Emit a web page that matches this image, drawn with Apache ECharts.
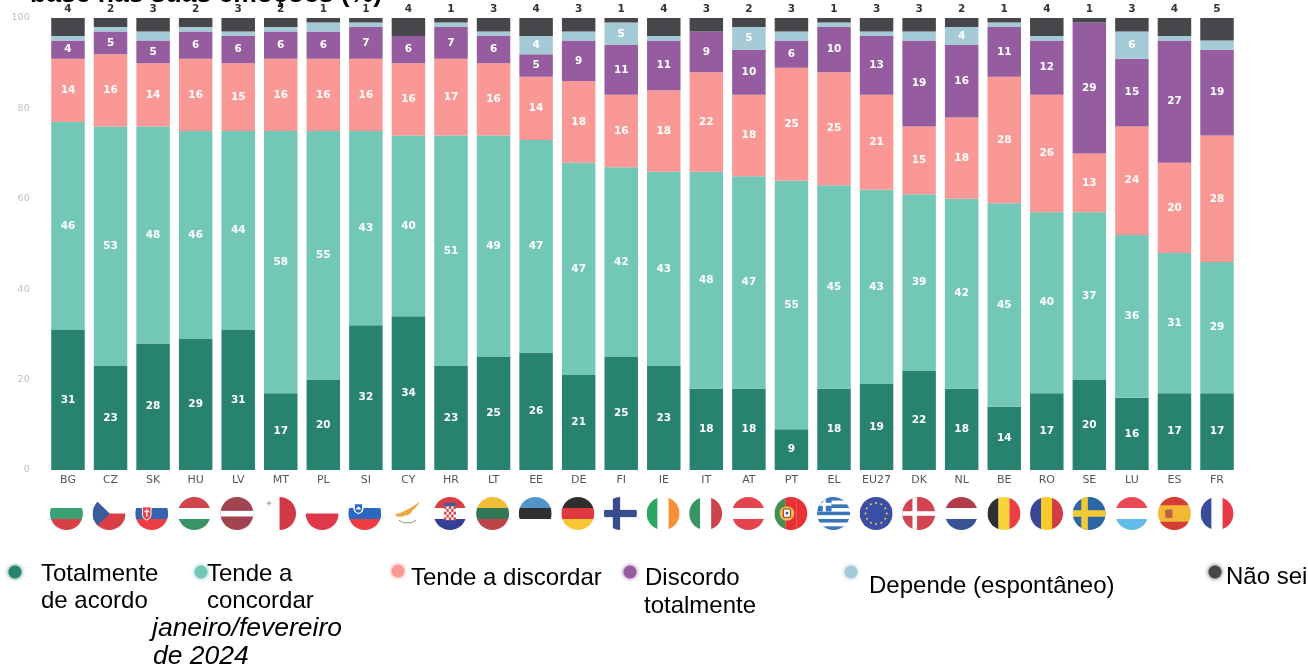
<!DOCTYPE html>
<html><head><meta charset="utf-8">
<style>html,body{margin:0;padding:0;background:#fff}#c{width:1308px;height:669px}</style>
<script src="https://cdn.jsdelivr.net/npm/echarts@6/dist/echarts.min.js"></script>
</head><body><div id="c"></div>
<script>
const countries = ['BG','CZ','SK','HU','LV','MT','PL','SI','CY','HR','LT','EE','DE','FI','IE','IT','AT','PT','EL','EU27','DK','NL','BE','RO','SE','LU','ES','FR'];
const totalmente = [31,23,28,29,31,17,20,32,34,23,25,26,21,25,23,18,18,9,18,19,22,18,14,17,20,16,17,17];
const tendeConcordar = [46,53,48,46,44,58,55,43,40,51,49,47,47,42,43,48,47,55,45,43,39,42,45,40,37,36,31,29];
const tendeDiscordar = [14,16,14,16,15,16,16,16,16,17,16,14,18,16,18,22,18,25,25,21,15,18,28,26,13,24,20,28];
const discordo = [4,5,5,6,6,6,6,7,6,7,6,5,9,11,11,9,10,6,10,13,19,16,11,12,29,15,27,19];
const depende = [1,1,2,1,1,1,2,1,0,1,1,4,2,5,1,0,5,2,1,1,2,4,1,1,0,6,1,2];
const naoSei = [4,2,3,2,3,2,1,1,4,1,3,4,3,1,4,3,2,3,1,3,3,2,1,4,1,3,4,5];
const seriesNames = ['Totalmente de acordo','Tende a concordar','Tende a discordar','Discordo totalmente','Depende (espontâneo)','Não sei'];
const colors = ['#27836f','#73c7b7','#fa9896','#955ca0','#a4cbd5','#47474b'];
const yTicks = [0,20,40,60,80,100];

// Flag artwork (100x100 box)
const R='#d6363c',G='#2f9d6c',B='#2f4f9b',W='#ffffff',Y='#f5c52c',K='#242424';
const h=(...c)=>c.map((x,i)=>`<rect x="0" y="${i*100/c.length}" width="100" height="${100/c.length+.5}" fill="${x}"/>`).join('');
const v=(...c)=>c.map((x,i)=>`<rect y="0" x="${i*100/c.length}" height="100" width="${100/c.length+.5}" fill="${x}"/>`).join('');
const cross=(bg,fg,cx,t)=>`<rect width="100" height="100" fill="${bg}"/><rect x="${cx-t/2}" width="${t}" height="100" fill="${fg}"/><rect y="${50-t/2}" width="100" height="${t}" fill="${fg}"/>`;
const stars=()=>{let s='';[[50,18],[66,22],[78,34],[82,50],[78,66],[66,78],[50,82],[34,78],[22,66],[18,50],[22,34],[34,22]].forEach(p=>{s+=`<circle cx="${p[0]}" cy="${p[1]}" r="3" fill="#f2d23a"/>`});return s};
const flagArt = {
 BG:h(W,G,R), CZ:h(W,R)+`<path d="M0 0L52 50L0 100Z" fill="#2f5597"/>`,
 SK:h(W,'#2a5caa','#ee3338')+`<path d="M22 30h26v26q-2 10-13 14q-11-4-13-14z" fill="#e8353a" stroke="#fff" stroke-width="3"/><path d="M35 36v24M28 44h14" stroke="#fff" stroke-width="4"/>`,
 HU:h('#cd3a44',W,'#2f8f5b'), LV:`<rect width="100" height="100" fill="#9e3a46"/><rect y="42" width="100" height="17" fill="#fff"/>`,
 MT:v(W,'#cf2f3b')+`<path d="M18 12v14M11 19h14" stroke="#c9a9a9" stroke-width="5"/>`,
 PL:h(W,'#dc2f41'), SI:h(W,'#1f5fc0','#ee3338')+`<path d="M18 20h26v18q-2 8-13 12q-11-4-13-12z" fill="#1f5fc0" stroke="#fff" stroke-width="4"/><path d="M22 38l9-10l9 10z" fill="#fff"/>`,
 CY:`<rect width="100" height="100" fill="#fff"/><path d="M12 52Q30 50 50 38Q70 28 88 14Q78 32 66 40Q58 56 44 56Q28 62 18 58Z" fill="#eda33a"/><path d="M24 70Q38 82 50 78M76 70Q62 82 50 78" stroke="#7c9a5c" stroke-width="3" fill="none"/>`,
 HR:h('#d9343c',W,'#29368e')+`<g><rect x="32" y="28" width="36" height="42" fill="#fff"/>${[0,1,2,3,4].map(i=>[0,1,2,3,4].map(j=>(i+j)%2==0?`<rect x="${32+i*7.2}" y="${28+j*8.4}" width="7.2" height="8.4" fill="#d9343c"/>`:'').join('')).join('')}<path d="M32 18h36v10h-36z" fill="#2c5aa0"/></g>`,
 LT:h('#f2b92e','#27704f','#b93a42'), EE:h('#4a90c8',K,W),
 DE:h(K,'#dc2f35','#f5c62a'), FI:cross(W,'#2f4488',38,22),
 IE:v('#1fa45b',W,'#f58b2c'), IT:v('#2f8f5b',W,'#c73c42'), AT:h('#e23a44',W,'#e23a44'),
 PT:v('#3c8a4c','#e8262a','#e8262a')+`<circle cx="38" cy="50" r="22" fill="#e2c94a"/><rect x="27" y="36" width="22" height="26" rx="4" fill="#fff" stroke="#c9352f" stroke-width="4"/><circle cx="38" cy="49" r="4" fill="#2b4a9a"/>`,
 EL:[0,1,2,3,4,5,6,7,8].map(i=>`<rect y="${i*100/9}" width="100" height="11.6" fill="${i%2?'#fff':'#2f6fb8'}"/>`).join('')+`<rect width="44" height="44" fill="#2f6fb8"/><path d="M22 0v44M0 22h44" stroke="#fff" stroke-width="9"/>`,
 EU27:`<rect width="100" height="100" fill="#2f45a0"/>`+stars(),
 DK:cross('#cf3a47',W,38,14), NL:h('#ae3340',W,'#2f4a8f'), BE:v(K,'#f5d32e','#e8353c'),
 RO:v('#2d3f8f','#f5c91f','#d2323a'), SE:cross('#20609f','#f2c72c',36,20), LU:h('#e8404a',W,'#5bb8e8'),
 ES:`<rect width="100" height="100" fill="#f3b52c"/><rect width="100" height="25" fill="#d4332f"/><rect y="75" width="100" height="25" fill="#d4332f"/><rect x="22" y="38" width="22" height="26" rx="4" fill="#b95a3a"/>`,
 FR:v('#2e4494',W,'#e8303f')
};
const flagUri = c => 'data:image/svg+xml;charset=utf-8,'+encodeURIComponent(
 `<svg xmlns="http://www.w3.org/2000/svg" width="100" height="100" viewBox="0 0 100 100"><defs><clipPath id="k"><circle cx="50" cy="50" r="50"/></clipPath></defs><g clip-path="url(#k)">${flagArt[c]}</g></svg>`);

const valueLabel = {
  show:true, position:'inside', color:'#fff', fontFamily:'DejaVu Sans', fontWeight:'bold', fontSize:10.5,
  formatter:p=>p.value>=4?String(p.value):''
};
const seriesValues=[totalmente,tendeConcordar,tendeDiscordar,discordo,depende,naoSei];
const barSeries = seriesValues.map((vals,i)=>({
  name:seriesNames[i], type:'bar', stack:'t', data:vals, barWidth:'78.7%',
  itemStyle:{color:colors[i]}, silent:true,
  label: i===5 ? {show:true,position:'top',distance:3,color:'#333',fontFamily:'DejaVu Sans',fontWeight:'bold',fontSize:10.5} : valueLabel
}));
const flagSeries = {
  type:'custom', silent:true, clip:false, z:5, data:countries.map((c,i)=>[i,0]),
  encode:{x:0,y:1},
  renderItem:(params,api)=>{
    const p=api.coord([api.value(0),0]);
    const drift=1.5*(1-params.dataIndex/27);
    return {type:'image',style:{image:flagUri(countries[params.dataIndex]),x:p[0]-16.5-drift,y:p[1]+27,width:33,height:33,opacity:.95}};
  }
};

// Legend and caption text
const legendDots=[[15,572],[201,572],[398,571],[630,572],[851,572],[1215,572]];
const F='Liberation Sans';
const legendText=[
 ['Totalmente',41,581],['de acordo',41,608],['Tende a',207,581],['concordar',207,608],
 ['Tende a discordar',411,585],['Discordo',645,585],['totalmente',644,613],
 ['Depende (espontâneo)',869,593],['Não sei',1226,584]
];
const caption=[['janeiro/fevereiro',152,636],['de 2024',153,664]];
const txt=(t,x,b,size,pre,color)=>({type:'text',silent:true,x:x,y:b-0.87*size+2,z:10,style:{text:t,font:`${pre}${size}px "${F}"`,fill:color||'#000'}});
const graphics=[
 txt('base nas suas emoções (%)',30,2,26.5,'bold '),
 ...legendDots.map((d,i)=>({type:'circle',silent:true,shape:{cx:d[0],cy:d[1],r:6.5},style:{fill:colors[i],shadowBlur:4,shadowColor:colors[i]}})),
 ...legendText.map(t=>txt(t[0],t[1],t[2],24,'')),
 ...caption.map(t=>txt(t[0],t[1],t[2],26.5,'italic '))
];

const chart=echarts.init(document.getElementById('c'),null,{renderer:'canvas'});
chart.setOption({
  animation:false, backgroundColor:'#fff',
  grid:{left:46.7,top:18,width:1191.6,height:452,containLabel:false},
  xAxis:{type:'category',data:countries,axisLine:{show:false},axisTick:{show:false},
    axisLabel:{color:'#555',fontFamily:'DejaVu Sans',fontSize:11,margin:5,interval:0}},
  yAxis:{type:'value',min:0,max:100,interval:20,axisLine:{show:false},axisTick:{show:false},splitLine:{show:false},
    axisLabel:{color:'#c4c0b8',fontFamily:'DejaVu Sans',fontSize:9.5,margin:17,formatter:v=>yTicks.includes(v)?String(v):''}},
  series:[...barSeries,flagSeries],
  graphic:{elements:graphics}
});
</script></body></html>
